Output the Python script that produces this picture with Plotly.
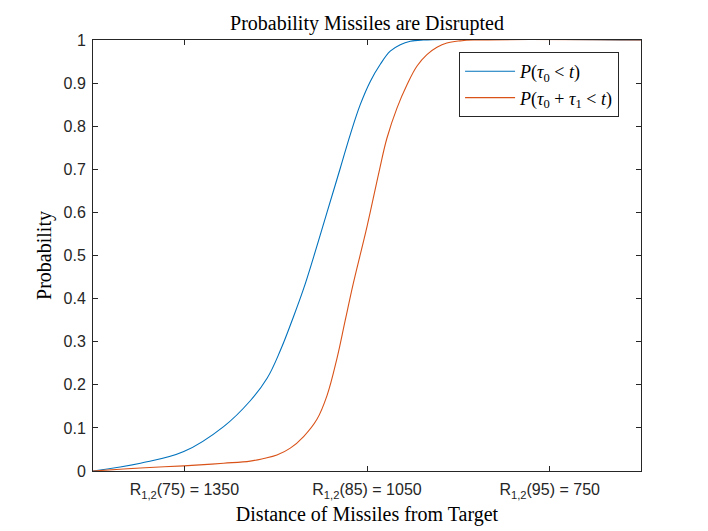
import plotly.graph_objects as go

# angle values (x) and probabilities
blue_x = [70.0, 72.6, 74.97, 77.15, 78.61, 79.53, 80.26, 80.95, 81.53, 82.08,
          82.81, 83.54, 84.08, 84.63, 85.18, 85.72, 86.27, 86.82, 87.37, 88.08, 100.0]
blue_y = [0.0, 0.018, 0.045, 0.103, 0.163, 0.215, 0.280, 0.355, 0.423, 0.497,
          0.600, 0.703, 0.780, 0.850, 0.904, 0.943, 0.974, 0.989, 0.997, 1.0, 1.0]

orange_x = [70.0, 72.6, 74.97, 77.15, 78.61, 79.34, 80.07, 80.80, 81.53, 82.26,
            82.81, 83.36, 83.81, 84.26, 85.0, 85.69, 86.09, 86.64, 87.19, 87.73,
            88.28, 88.83, 89.37, 90.10, 90.83, 100.0]
orange_y = [0.0, 0.007, 0.012, 0.018, 0.023, 0.029, 0.037, 0.053, 0.080, 0.120,
            0.175, 0.262, 0.350, 0.437, 0.567, 0.700, 0.772, 0.842, 0.896, 0.939,
            0.966, 0.983, 0.993, 0.998, 1.0, 1.0]

tick_vals = [75, 85, 95]
tick_text = ['R<sub>1,2</sub>(75) = 1350', 'R<sub>1,2</sub>(85) = 1050',
             'R<sub>1,2</sub>(95) = 750']

serif = 'Liberation Serif'
sans = 'Liberation Sans'
axis_col = '#262626'

fig = go.Figure()
fig.add_trace(go.Scatter(x=blue_x, y=blue_y, mode='lines',
                         name='<i>P</i>(<i>τ</i><sub>0</sub> &lt; <i>t</i>)',
                         line=dict(color='#0072BD', width=1.1, shape='spline', smoothing=1.1)))
fig.add_trace(go.Scatter(x=orange_x, y=orange_y, mode='lines',
                         name='<i>P</i>(<i>τ</i><sub>0</sub> + <i>τ</i><sub>1</sub> &lt; <i>t</i>)',
                         line=dict(color='#D95319', width=1.1, shape='spline', smoothing=1.1)))

# the page body adds an 8px offset, so margins are shifted to compensate
fig.update_layout(
    width=708, height=531,
    margin=dict(l=85, r=75, t=32, b=68),
    paper_bgcolor='white', plot_bgcolor='white',
    title=dict(text='Probability Missiles are Disrupted', x=0.5, xref='paper',
               y=1 - 15 / 531, yref='container', yanchor='middle',
               font=dict(family=serif, size=20, color='black')),
    showlegend=True,
    legend=dict(x=0.668, y=0.972, xanchor='left', yanchor='top',
                bordercolor='#262626', borderwidth=1, bgcolor='white',
                font=dict(family=serif, size=18, color='black'),
                tracegroupgap=0, itemwidth=50),
)

fig.update_xaxes(range=[70, 100], tickvals=tick_vals, ticktext=tick_text,
                 ticks='inside', ticklen=5, tickcolor=axis_col,
                 showline=True, linecolor=axis_col, linewidth=1, mirror='ticks',
                 showgrid=False, zeroline=False, ticklabelstandoff=4,
                 tickfont=dict(family=sans, size=16, color='#262626'),
                 title=dict(text='Distance of Missiles from Target', standoff=7,
                            font=dict(family=serif, size=20, color='black')))
fig.update_yaxes(range=[0, 1], dtick=0.1, tickformat='.1~f',
                 ticks='inside', ticklen=5, tickcolor=axis_col,
                 showline=True, linecolor=axis_col, linewidth=1, mirror='ticks',
                 showgrid=False, zeroline=False, ticklabelstandoff=3,
                 tickfont=dict(family=sans, size=16, color='#262626'),
                 title=dict(text='Probability', standoff=6,
                            font=dict(family=serif, size=20, color='black')))

fig.write_html('out.html')
